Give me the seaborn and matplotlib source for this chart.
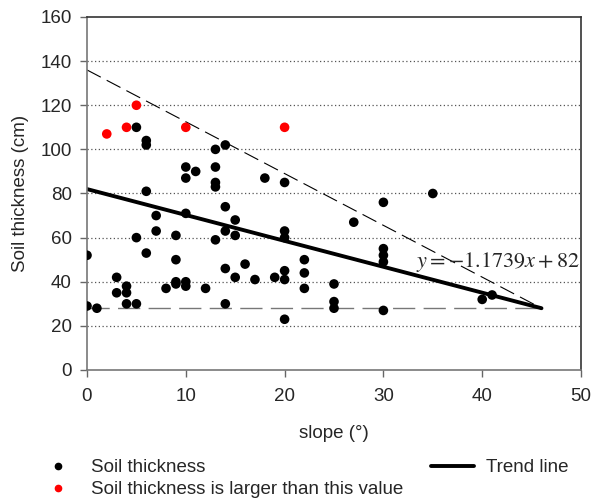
import numpy as np
import pandas as pd
import seaborn as sns
import matplotlib.pyplot as plt
from matplotlib.lines import Line2D

# =======================
# Datos
# =======================
slope_black = [0, 0, 1, 3, 3, 4, 4, 4, 5, 5, 5,
               6, 6, 6, 6, 7, 7, 8, 9, 9, 9, 9,
               10, 10, 10, 10, 10, 11, 12, 13, 13, 13, 13, 13,
               14, 14, 14, 14, 14, 15, 15, 15, 16, 17, 18,
               19, 20, 20, 20, 20, 20, 20, 22, 22, 22,
               25, 25, 25, 27, 30, 30, 30, 30, 30, 35, 40, 41]
thick_black = [52, 29, 28, 42, 35, 38, 35, 30, 30, 60, 110,
               104, 102, 81, 53, 70, 63, 37, 61, 50, 40, 39,
               92, 87, 71, 40, 38, 90, 37, 100, 92, 85, 83, 59,
               102, 74, 63, 46, 30, 68, 61, 42, 48, 41, 87,
               42, 85, 63, 60, 45, 41, 23, 50, 44, 37,
               39, 31, 28, 67, 76, 55, 52, 49, 27, 80, 32, 34]

slope_red = [2, 4, 5, 10, 20]
thick_red = [107, 110, 120, 110, 110]

# Linea de tendencia y = -1.1739x + 82
trend_slope = -1.1739
trend_intercept = 82
trend_x = [0, 46]

# Lineas de envolvente
upper_x = [0, 46]
upper_y = [136, 28]
lower_x = [0, 46]
lower_y = [28, 28]

df_black = pd.DataFrame({'slope': slope_black, 'thickness': thick_black})
df_red = pd.DataFrame({'slope': slope_red, 'thickness': thick_red})
df_trend = pd.DataFrame({'slope': trend_x,
                         'thickness': [trend_slope * x + trend_intercept for x in trend_x]})

# =======================
# Grafico
# =======================
sns.set_style('white')
plt.rcParams['font.family'] = ['Liberation Sans', 'DejaVu Sans']
plt.rcParams['mathtext.fontset'] = 'stix'

fig = plt.figure(figsize=(5.93, 5.0), dpi=100)
ax = fig.add_axes([87 / 593, 1 - 370 / 500, (581 - 87) / 593, (370 - 17) / 500])

for yv in range(20, 160, 20):
    ax.axhline(yv, color='#555555', lw=0.9, ls=(0, (1, 2)), zorder=0)

ax.plot(upper_x, upper_y, color='black', lw=0.8, ls=(0, (14, 6)), zorder=1)
ax.plot(lower_x, lower_y, color='#777777', lw=1.0, ls=(0, (16, 6)), zorder=1)
sns.lineplot(data=df_trend, x='slope', y='thickness', color='black', lw=2.8, ax=ax, zorder=2)

sns.scatterplot(data=df_black, x='slope', y='thickness', color='black', s=48,
                edgecolor='none', ax=ax, zorder=3)
sns.scatterplot(data=df_red, x='slope', y='thickness', color='red', s=48,
                edgecolor='none', ax=ax, zorder=3)

ax.text(33.3, 49, r'$y=-1.1739x+82$', fontsize=16, ha='left', va='center', zorder=4)

ax.set_xlim(0, 50)
ax.set_ylim(0, 160)
ax.set_xticks(range(0, 51, 10))
ax.set_yticks(range(0, 161, 20))
ax.set_xlabel('slope (°)', fontsize=13.5, labelpad=14)
ax.set_ylabel('Soil thickness (cm)', fontsize=13.5, labelpad=8)
ax.tick_params(axis='both', labelsize=13.5, length=5, width=1, color='#666666',
               direction='out', bottom=True, left=True)
ax.tick_params(axis='x', pad=8)
ax.tick_params(axis='y', pad=6)

for side in ['left', 'bottom']:
    ax.spines[side].set_color('#777777')
    ax.spines[side].set_linewidth(1.2)
for side in ['top', 'right']:
    ax.spines[side].set_color('#333333')
    ax.spines[side].set_linewidth(1.2)

handles = [
    Line2D([], [], ls='none', marker='o', color='black', markersize=4.5),
    Line2D([], [], ls='none', marker='o', color='red', markersize=4.5),
    Line2D([], [], color='black', lw=2.8),
    Line2D([], [], ls='none'),
]
labels = ['Soil thickness', 'Soil thickness is larger than this value', 'Trend line', '']
fig.legend(handles, labels, loc='upper left', bbox_to_anchor=(27 / 593, 1 - 450 / 500),
           ncol=2, frameon=False, fontsize=13.5, handlelength=2.3, handletextpad=0.6,
           columnspacing=1.5, labelspacing=0.25, borderpad=0)

plt.savefig('out.png', dpi=100)
plt.close()
